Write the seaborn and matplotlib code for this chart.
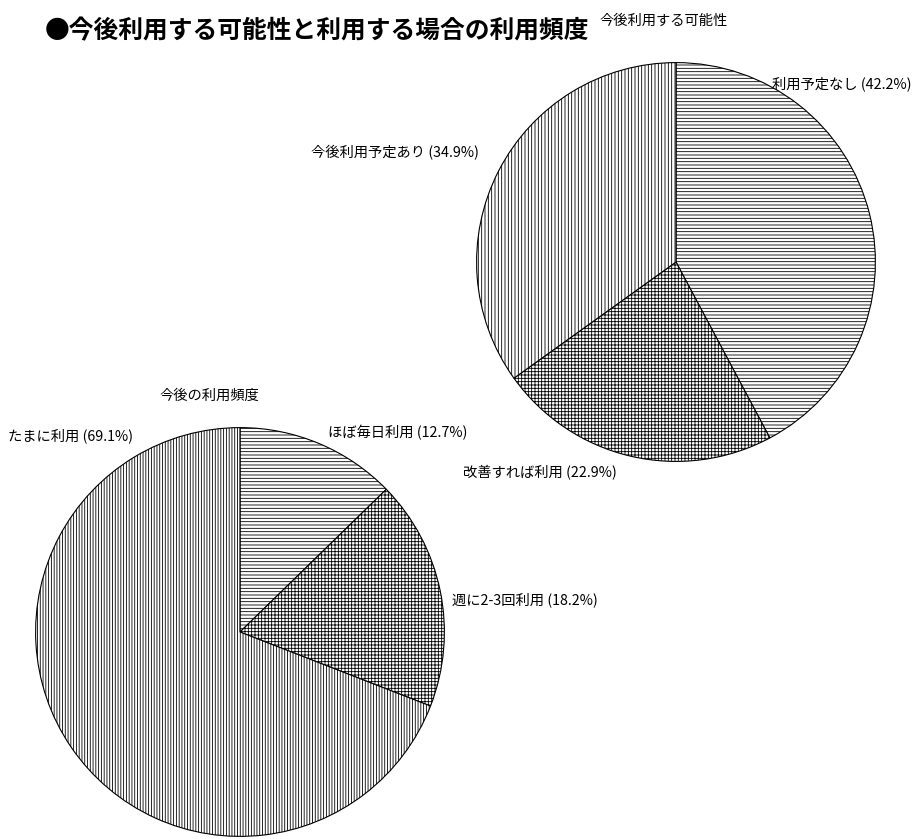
import matplotlib
matplotlib.use("Agg")
import matplotlib.pyplot as plt
import seaborn as sns

# Survey results: likelihood of future use
plan_labels = ["利用予定なし", "改善すれば利用", "今後利用予定あり"]
plan_values = [42.2, 22.9, 34.9]
plan_hatches = ["-----", "+++++", "|||||"]

# Expected frequency of use
freq_labels = ["ほぼ毎日利用", "週に2-3回利用", "たまに利用"]
freq_values = [12.7, 18.2, 69.1]
freq_hatches = ["-----", "+++++", "||||||"]

main_title = "●今後利用する可能性と利用する場合の利用頻度"
plan_title = "今後利用する可能性"
freq_title = "今後の利用頻度"

sns.set_theme(style="white")
plt.rcParams["font.family"] = ["Noto Sans CJK JP", "DejaVu Sans"]
plt.rcParams["hatch.linewidth"] = 0.6
plt.rcParams["hatch.color"] = "black"

W, H = 915, 839
fig = plt.figure(figsize=(W / 100, H / 100), dpi=100)
fig.patch.set_facecolor("white")


def px_axes(cx, cy, r):
    """Axes whose square box of side 2r is centred on pixel (cx, cy)."""
    return fig.add_axes([(cx - r) / W, 1 - (cy + r) / H, 2 * r / W, 2 * r / H])


def draw_pie(ax, values, hatches):
    wedges, _ = ax.pie(values, startangle=90, counterclock=False,
                       colors=["white"] * len(values),
                       wedgeprops=dict(edgecolor="black", linewidth=0.8))
    for w, h in zip(wedges, hatches):
        w.set_hatch(h)
    ax.set_aspect("auto")
    ax.set_xlim(-1.003, 1.003)
    ax.set_ylim(-1.003, 1.003)
    ax.axis("off")


def label(text, x, y, size=10.3, **kw):
    fig.text(x / W, 1 - y / H, text, fontsize=size, va="center", ha="left",
             color="black", **kw)


ax_plan = px_axes(676, 262, 200)
draw_pie(ax_plan, plan_values, plan_hatches)

ax_freq = px_axes(240, 632, 205)
draw_pie(ax_freq, freq_values, freq_hatches)

label(main_title, 45, 31, size=17.8, fontweight="bold")
label(plan_title, 600, 21, size=10.3)
label(freq_title, 160, 396, size=10.3)

plan_pos = [(772, 84), (463, 473), (311, 153)]
for name, val, (x, y) in zip(plan_labels, plan_values, plan_pos):
    label(f"{name} ({val}%)", x, y)

freq_pos = [(328, 433), (452, 600), (8, 436)]
for name, val, (x, y) in zip(freq_labels, freq_values, freq_pos):
    label(f"{name} ({val}%)", x, y)

fig.savefig("out.png", dpi=100, facecolor="white")
